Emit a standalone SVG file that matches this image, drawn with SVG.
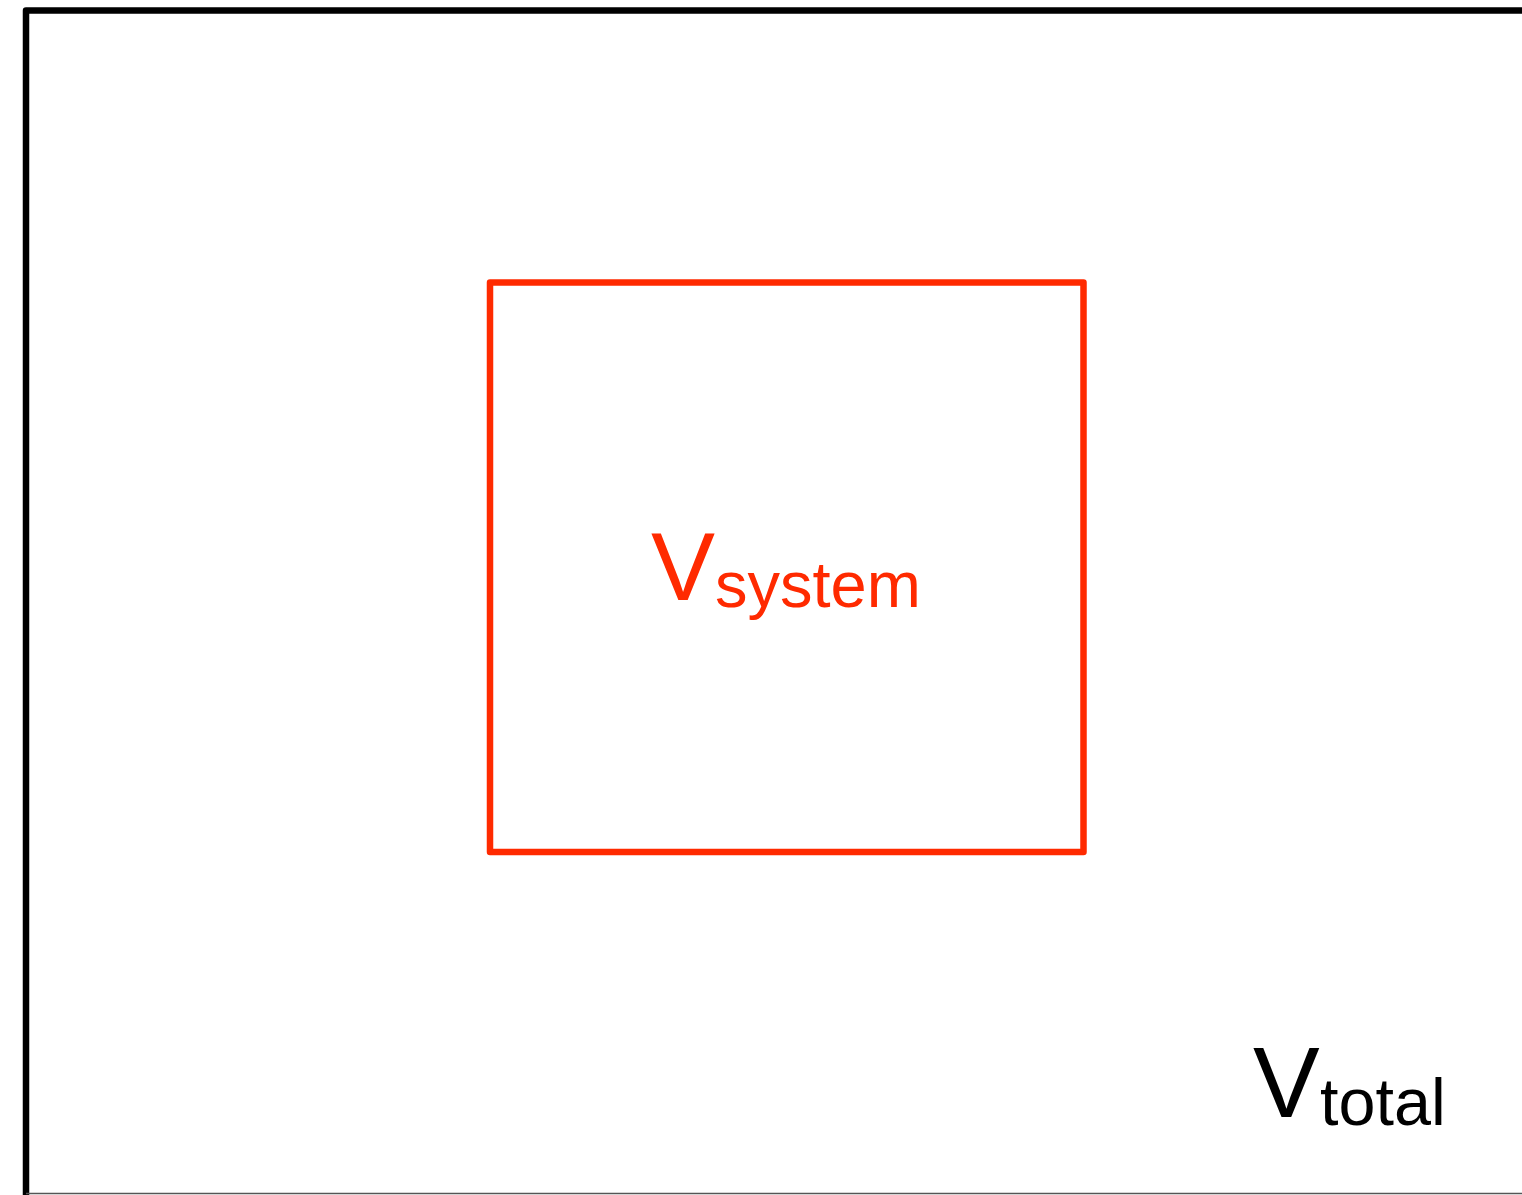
<svg xmlns="http://www.w3.org/2000/svg" width="1522" height="1195" viewBox="0 0 1522 1195">
<style>
.frame{fill:none;stroke:#000;stroke-width:6.5;stroke-linejoin:round;stroke-linecap:round}
.sys{fill:none;stroke:#FF2A00;stroke-width:6.5;stroke-linejoin:round;stroke-linecap:round}
.lbl{font-family:"Liberation Sans",Arial,sans-serif}
</style>
<rect width="1522" height="1195" fill="#fff"/>
<g id="total">
<path class="frame" d="M26,1195 V10.5 H1530"/>
<line x1="26" y1="1193.5" x2="1522" y2="1193.5" stroke="#555" stroke-width="1.5"/>
<text class="lbl" x="1253" y="1117" font-size="100" fill="#000">V<tspan x="1320" y="1125" font-size="66.5">total</tspan></text>
</g>
<g id="system">
<rect class="sys" x="490" y="282.5" width="593.5" height="569.5"/>
<text class="lbl" x="651" y="600" font-size="96" fill="#FF2A00">V<tspan x="715" y="607" font-size="65">system</tspan></text>
</g>
<g id="connectors"/>
</svg>
